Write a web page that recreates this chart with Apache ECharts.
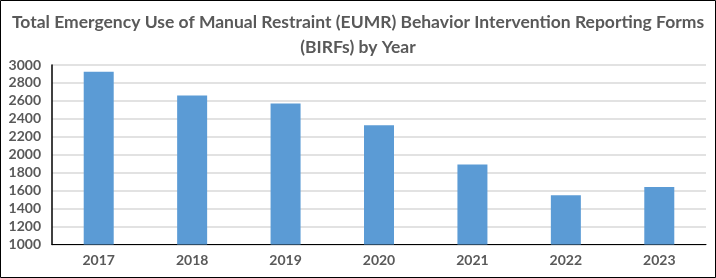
<!DOCTYPE html>
<html><head><meta charset="utf-8">
<script src="https://cdn.jsdelivr.net/npm/echarts@6/dist/echarts.min.js"></script>
<style>html,body{margin:0;padding:0;background:#fff}#c{width:716px;height:278px}</style>
</head><body><div id="c"></div>
<script>
const titleText = "Total Emergency Use of Manual Restraint (EUMR) Behavior Intervention Reporting Forms\n(BIRFs) by Year";
const years = ["2017","2018","2019","2020","2021","2022","2023"];
const birfs = [2925, 2660, 2570, 2330, 1890, 1550, 1640];
const yMin = 1000, yMax = 3000, yStep = 200;

const chart = echarts.init(document.getElementById('c'), null, {renderer:'canvas'});
const font = 'Lato';
chart.setOption({
  animation:false,
  title:{
    text:titleText, left:'center', top:5,
    textStyle:{fontFamily:font, fontSize:17.5, fontWeight:'bold', color:'#595959', lineHeight:25}
  },
  graphic:[{type:'rect', shape:{x:0.5,y:0.5,width:715,height:277}, style:{fill:'none', stroke:'#000', lineWidth:1}, z:100}],
  grid:{left:52, right:10, top:65, bottom:33.5, containLabel:false},
  xAxis:{
    type:'category', data:years,
    axisLine:{lineStyle:{color:'#000', width:1}},
    axisTick:{show:false},
    axisLabel:{fontFamily:font, fontSize:14, fontWeight:'bold', color:'#595959', margin:9}
  },
  yAxis:{
    type:'value', min:yMin, max:yMax, interval:yStep,
    axisLine:{show:true, lineStyle:{color:'#000', width:1.5}},
    axisTick:{show:false},
    splitLine:{lineStyle:{color:'#d9d9d9', width:1.5}},
    axisLabel:{fontFamily:font, fontSize:14, fontWeight:'bold', color:'#595959', margin:11, formatter:v=>String(v)}
  },
  series:[{type:'bar', data:birfs, barWidth:30, itemStyle:{color:'#5b9bd5'}}]
});
</script></body></html>
